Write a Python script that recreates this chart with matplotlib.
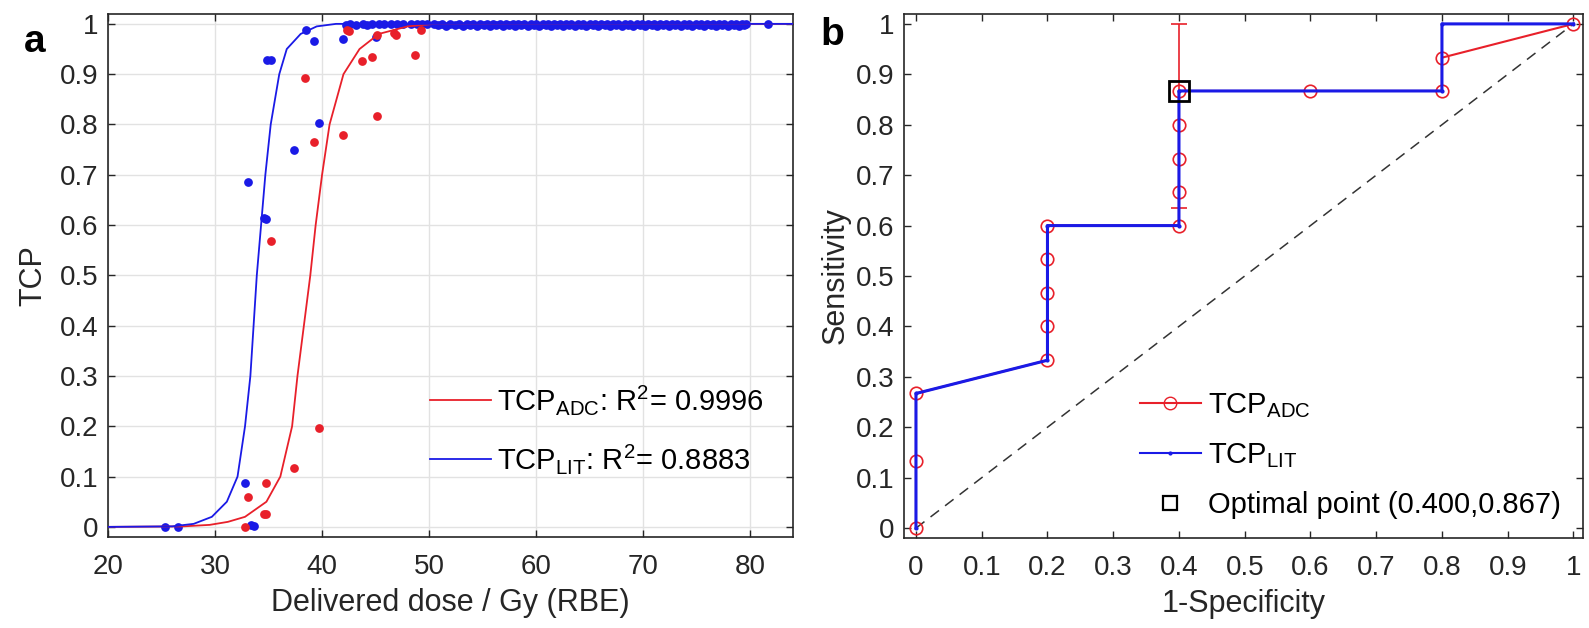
import numpy as np
import matplotlib
matplotlib.use("Agg")
import matplotlib.pyplot as plt
from matplotlib.lines import Line2D

base_font = 'Liberation Sans'
plt.rcParams['font.family'] = [base_font, 'DejaVu Sans']
plt.rcParams['mathtext.fontset'] = 'custom'
plt.rcParams['mathtext.rm'] = base_font
plt.rcParams['mathtext.it'] = base_font
fs_tick = 20
fs_lab = 22
fs_leg = 21

# ---- panel a: fitted TCP curves ----
fit_lit_x = [20, 26, 28, 29.7, 31.1, 32.1, 32.8, 33.3, 33.6, 33.9, 34.3, 34.7, 35.2, 36.0, 36.7, 38.0, 39.5, 41.3, 84]
fit_lit_y = [0, 0.001, 0.006, 0.02, 0.05, 0.1, 0.2, 0.3, 0.4, 0.5, 0.6, 0.7, 0.8, 0.9, 0.95, 0.98, 0.995, 1.0, 1.0]
fit_adc_x = [20, 27, 29.5, 31.2, 32.8, 34.8, 36.1, 37.2, 37.7, 38.3, 38.9, 39.4, 40.0, 40.7, 42.0, 43.5, 45.3, 48.0, 50.5, 84]
fit_adc_y = [0, 0.001, 0.004, 0.01, 0.02, 0.05, 0.1, 0.2, 0.3, 0.4, 0.5, 0.6, 0.7, 0.8, 0.9, 0.95, 0.98, 0.995, 1.0, 1.0]

# patient points, TCP_ADC
adc_dose = [38.4, 39.2, 35.2, 42.0, 45.1, 43.7, 44.7, 48.7, 42.3, 42.5, 45.1, 46.7, 46.9, 49.2,
            39.75, 37.4, 33.1, 34.6, 34.8, 32.8, 34.8]
adc_tcp = [0.893, 0.765, 0.569, 0.78, 0.817, 0.927, 0.934, 0.938, 0.988, 0.985, 0.978, 0.981, 0.978, 0.988,
           0.196, 0.117, 0.06, 0.025, 0.026, 0.0, 0.087]

# patient points, TCP_LIT
lit_dose = [33.1, 34.6, 34.8, 34.9, 35.2, 37.4, 38.5, 39.2, 39.75, 41.96, 45.0, 32.8, 25.3, 26.5, 33.6, 33.4,
            42.2, 42.6, 43.2, 43.8, 44.2, 44.7, 45.3, 45.8, 46.4, 47.0, 47.6, 48.3, 48.9, 49.3, 49.8,
            50.5, 51.2, 52.0, 52.8, 53.5, 54.1, 54.8, 55.4, 56.0, 56.6, 57.2, 57.8, 58.3, 58.9,
            59.5, 60.0, 60.6, 61.1, 61.7, 62.2, 62.8, 63.3, 63.9, 64.4, 65.0, 65.5, 66.1, 66.6,
            67.2, 67.7, 68.3, 68.8, 69.4, 69.9, 70.5, 71.0, 71.6, 72.1, 72.7, 73.2, 73.8, 74.3,
            74.9, 75.4, 76.0, 76.5, 77.1, 77.6, 78.2, 78.7, 79.2, 79.6, 81.7]
lit_tcp = [0.685, 0.615, 0.612, 0.929, 0.929, 0.749, 0.988, 0.966, 0.803, 0.970, 0.974, 0.087, 0.0, 0.0, 0.001, 0.003,
           0.998, 0.999, 0.997, 0.999, 0.998, 0.999, 1.0, 0.999, 1.0, 0.999, 1.0, 1.0, 0.999, 1.0, 1.0,
           1.0, 1.0, 1.0, 1.0, 1.0, 1.0, 1.0, 1.0, 1.0, 1.0, 1.0, 1.0, 1.0, 1.0,
           1.0, 1.0, 1.0, 1.0, 1.0, 1.0, 1.0, 1.0, 1.0, 1.0, 1.0, 1.0, 1.0, 1.0,
           1.0, 1.0, 1.0, 1.0, 1.0, 1.0, 1.0, 1.0, 1.0, 1.0, 1.0, 1.0, 1.0, 1.0,
           1.0, 1.0, 1.0, 1.0, 1.0, 1.0, 1.0, 1.0, 1.0, 1.0, 1.0]
# further TCP_LIT patients packed in the band just under 1
lit_dose_band = [50.8, 51.6, 52.4, 53.2, 53.8, 54.5, 55.1, 55.7, 56.3, 56.9, 57.5, 58.0, 58.6, 59.2,
                 59.8, 60.3, 60.9, 61.4, 62.0, 62.5, 63.1, 63.6, 64.2, 64.7, 65.3, 65.8, 66.4, 66.9,
                 67.5, 68.0, 68.6, 69.1, 69.7, 70.2, 70.8, 71.3, 71.9, 72.4, 73.0, 73.5, 74.1, 74.6,
                 75.2, 75.7, 76.3, 76.8, 77.4, 77.9, 78.5, 79.0, 79.4]
lit_tcp_band = [0.997, 0.996, 0.997, 0.996, 0.997, 0.996, 0.997, 0.996, 0.997, 0.996, 0.997, 0.996, 0.997, 0.996,
                0.997, 0.996, 0.997, 0.996, 0.997, 0.996, 0.997, 0.996, 0.997, 0.996, 0.997, 0.996, 0.997, 0.996,
                0.997, 0.996, 0.997, 0.996, 0.997, 0.996, 0.997, 0.996, 0.997, 0.996, 0.997, 0.996, 0.997, 0.996,
                0.997, 0.996, 0.997, 0.996, 0.997, 0.996, 0.997, 0.996, 0.997]

r2_adc = 0.9996
r2_lit = 0.8883

# ---- panel b: ROC curves ----
roc_adc_fpr = [0, 0, 0, 0.2, 0.2, 0.2, 0.2, 0.2, 0.4, 0.4, 0.4, 0.4, 0.4, 0.6, 0.8, 0.8, 1.0]
roc_adc_tpr = [0, 0.133, 0.267, 0.333, 0.4, 0.467, 0.533, 0.6, 0.6, 0.667, 0.733, 0.8, 0.867, 0.867, 0.867, 0.933, 1.0]
roc_lit_fpr = [0, 0, 0.2, 0.2, 0.4, 0.4, 0.8, 0.8, 1.0]
roc_lit_tpr = [0, 0.267, 0.333, 0.6, 0.6, 0.867, 0.867, 1.0, 1.0]
opt_fpr, opt_tpr = 0.400, 0.867
opt_err_low, opt_err_high = 0.232, 0.133

txt = '#262626'
red = '#e8202a'
blue = '#1a1ae6'
fig = plt.figure(figsize=(15.89, 6.28), dpi=100)

# ---------------- panel a ----------------
ax = fig.add_axes([0.068, 0.145, 0.431, 0.833])
ax.grid(True, color='#e2e2e2', linewidth=1.0)
ax.set_axisbelow(True)
ax.plot(lit_dose, lit_tcp, 'o', color=blue, ms=6.3, mec='none', zorder=3)
ax.plot(lit_dose_band, lit_tcp_band, 'o', color=blue, ms=6.3, mec='none', zorder=3)
ax.plot(adc_dose, adc_tcp, 'o', color=red, ms=6.3, mec='none', zorder=3)
ax.plot(fit_adc_x, fit_adc_y, '-', color=red, lw=1.3, zorder=4,
        label=r'TCP$_{\mathrm{ADC}}$: R$^{2}$= %.4f' % r2_adc)
ax.plot(fit_lit_x, fit_lit_y, '-', color=blue, lw=1.3, zorder=4,
        label=r'TCP$_{\mathrm{LIT}}$: R$^{2}$= %.4f' % r2_lit)
ax.set_xlim(20, 84)
ax.set_ylim(-0.02, 1.02)
ax.set_xticks(np.arange(20, 81, 10))
ax.set_yticks(np.arange(0, 1.01, 0.1))
ax.set_yticklabels(['0'] + ['%.1f' % v for v in np.arange(0.1, 0.95, 0.1)] + ['1'])
ax.set_xlabel('Delivered dose / Gy (RBE)', fontsize=fs_lab, color=txt, labelpad=6)
ax.set_ylabel('TCP', fontsize=fs_lab, color=txt, labelpad=8)
ax.legend(loc='center left', bbox_to_anchor=(0.47, 0.205), frameon=False, fontsize=fs_leg,
          handlelength=2.1, handletextpad=0.2, labelspacing=0.85, borderpad=0, borderaxespad=0)
ax.text(-0.107, 0.946, 'a', transform=ax.transAxes, fontsize=28, fontweight='bold',
        ha='center', va='center')

# ---------------- panel b ----------------
bx = fig.add_axes([0.569, 0.143, 0.427, 0.835])
bx.plot([0, 1], [0, 1], '--', color='#333333', lw=1.1, dashes=(7, 5))
bx.errorbar(opt_fpr, opt_tpr, yerr=[[opt_err_low], [opt_err_high]], fmt='none',
            ecolor=red, elinewidth=1.2, capsize=6, capthick=1.2, zorder=2)
bx.plot(roc_adc_fpr, roc_adc_tpr, '-o', color=red, mfc='none', mec=red,
        ms=9, lw=1.5, mew=1.2, zorder=3)
bx.plot(roc_lit_fpr, roc_lit_tpr, '-', color=blue, lw=2.2, marker='.', ms=4, zorder=4)
bx.plot([opt_fpr], [opt_tpr], 's', mfc='none', mec='black', ms=14, mew=2.0, zorder=5)
bx.set_xlim(-0.018, 1.014)
bx.set_ylim(-0.02, 1.02)
bx.set_xticks(np.arange(0, 1.01, 0.1))
bx.set_yticks(np.arange(0, 1.01, 0.1))
lab = ['0'] + ['%.1f' % v for v in np.arange(0.1, 0.95, 0.1)] + ['1']
bx.set_xticklabels(lab)
bx.set_yticklabels(lab)
bx.set_xlabel('1-Specificity', fontsize=fs_lab, color=txt, labelpad=6)
bx.set_ylabel('Sensitivity', fontsize=fs_lab, color=txt, labelpad=4)
h_adc = Line2D([], [], color=red, marker='o', mfc='none', ms=9, lw=1.5)
h_lit = Line2D([], [], color=blue, marker='.', ms=4, lw=1.5)
h_opt = Line2D([], [], color='black', marker='s', mfc='none', ms=10, mew=1.6, lw=0)
bx.legend([h_adc, h_lit, h_opt],
          [r'TCP$_{\mathrm{ADC}}$', r'TCP$_{\mathrm{LIT}}$', 'Optimal point (%.3f,%.3f)' % (opt_fpr, opt_tpr)],
          loc='center left', bbox_to_anchor=(0.347, 0.158), frameon=False, fontsize=fs_leg,
          handlelength=2.1, handletextpad=0.25, labelspacing=0.72, borderpad=0, borderaxespad=0)
bx.text(-0.106, 0.96, 'b', transform=bx.transAxes, fontsize=28, fontweight='bold',
        ha='center', va='center')

for a in (ax, bx):
    for s in a.spines.values():
        s.set_color('#262626')
        s.set_linewidth(1.2)
    a.tick_params(direction='in', top=True, right=True, length=5, width=1,
                  labelsize=fs_tick, colors=txt)
    a.tick_params(axis='x', pad=12)
    a.tick_params(axis='y', pad=7)

fig.savefig('out.png', dpi=100)
